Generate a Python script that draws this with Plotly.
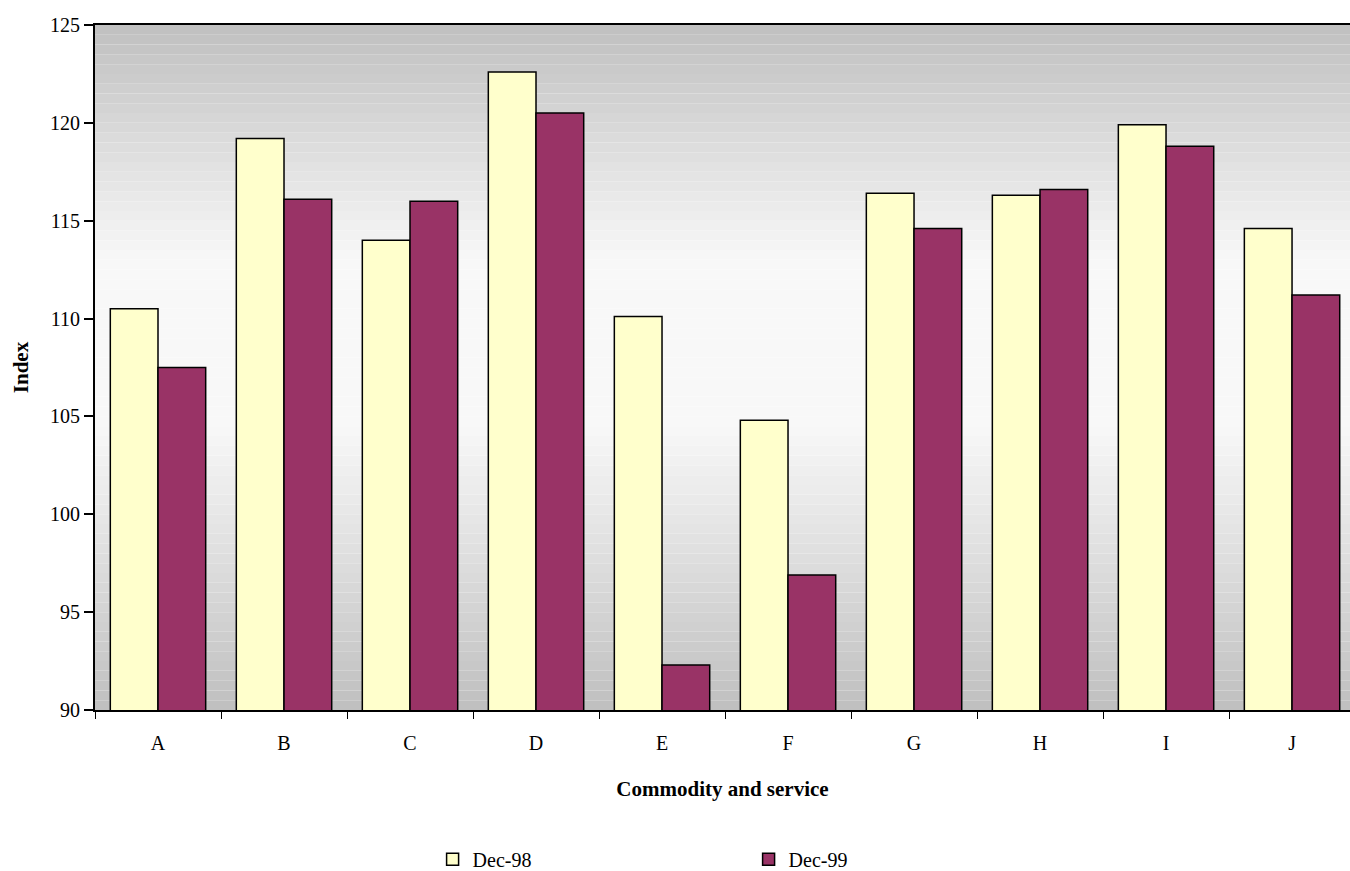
import plotly.graph_objects as go

# Price indices by commodity group
categories = ["A", "B", "C", "D", "E", "F", "G", "H", "I", "J"]
dec98 = [110.5, 119.2, 114.0, 122.6, 110.1, 104.8, 116.4, 116.3, 119.9, 114.6]
dec99 = [107.5, 116.1, 116.0, 120.5, 92.3, 96.9, 114.6, 116.6, 118.8, 111.2]
series_names = ["Dec-98", "Dec-99"]
series_colors = ["#FFFFCC", "#993366"]

FONT = "Liberation Serif"

fig = go.Figure()
for name, vals, col in zip(series_names, [dec98, dec99], series_colors):
    fig.add_trace(go.Bar(
        x=categories, y=vals, name=name,
        marker=dict(color=col, line=dict(color="black", width=1.5)),
    ))

# Banded grey-white-grey vertical gradient behind the bars
n_bands = 70
shapes = []
for i in range(n_bands):
    y0 = i / n_bands
    y1 = (i + 1) / n_bands
    mid = (y0 + y1) / 2
    dist = min(mid, 1 - mid) * 685  # pixels from nearest edge
    rate = 0.24 if mid > 0.5 else 0.2
    v = int(min(192 + rate * dist, 248))
    shapes.append(dict(
        type="rect", xref="x domain", yref="y domain",
        x0=0, x1=1, y0=y0, y1=y1, layer="below",
        fillcolor=f"rgb({v},{v},{v})", line=dict(width=0),
    ))

fig.update_layout(
    width=1350, height=871,
    margin=dict(l=95, r=0, t=25, b=161, autoexpand=False),
    paper_bgcolor="white",
    plot_bgcolor="white",
    shapes=shapes,
    barmode="group",
    bargap=0.243,
    bargroupgap=0,
    font=dict(family=FONT, size=20, color="black"),
    showlegend=True,
    legend=dict(
        orientation="h", x=0.269, xanchor="left", y=-0.218, yanchor="middle",
        entrywidth=271, entrywidthmode="pixels",
        font=dict(family=FONT, size=20, color="black"),
        bgcolor="rgba(0,0,0,0)", itemclick=False,
    ),
    xaxis=dict(
        range=[-0.5, 9.46], automargin=False,
        showline=True, linecolor="black", linewidth=2, mirror=True,
        ticks="outside", tickson="boundaries", ticklen=7, tickwidth=1,
        tickcolor="black", showgrid=False, ticklabelstandoff=14,
        tickfont=dict(family=FONT, size=20),
        title=dict(text="<b>Commodity and service</b>", standoff=28,
                   font=dict(family=FONT, size=21)),
    ),
    yaxis=dict(
        range=[90, 125], dtick=5, automargin=False,
        showline=True, linecolor="black", linewidth=2,
        ticks="outside", ticklen=9, tickwidth=1.5, tickcolor="black",
        showgrid=False, zeroline=False,
        tickfont=dict(family=FONT, size=20),
        title=dict(text="<b>Index</b>", standoff=16,
                   font=dict(family=FONT, size=21)),
    ),
)

fig.write_html("out.html")
